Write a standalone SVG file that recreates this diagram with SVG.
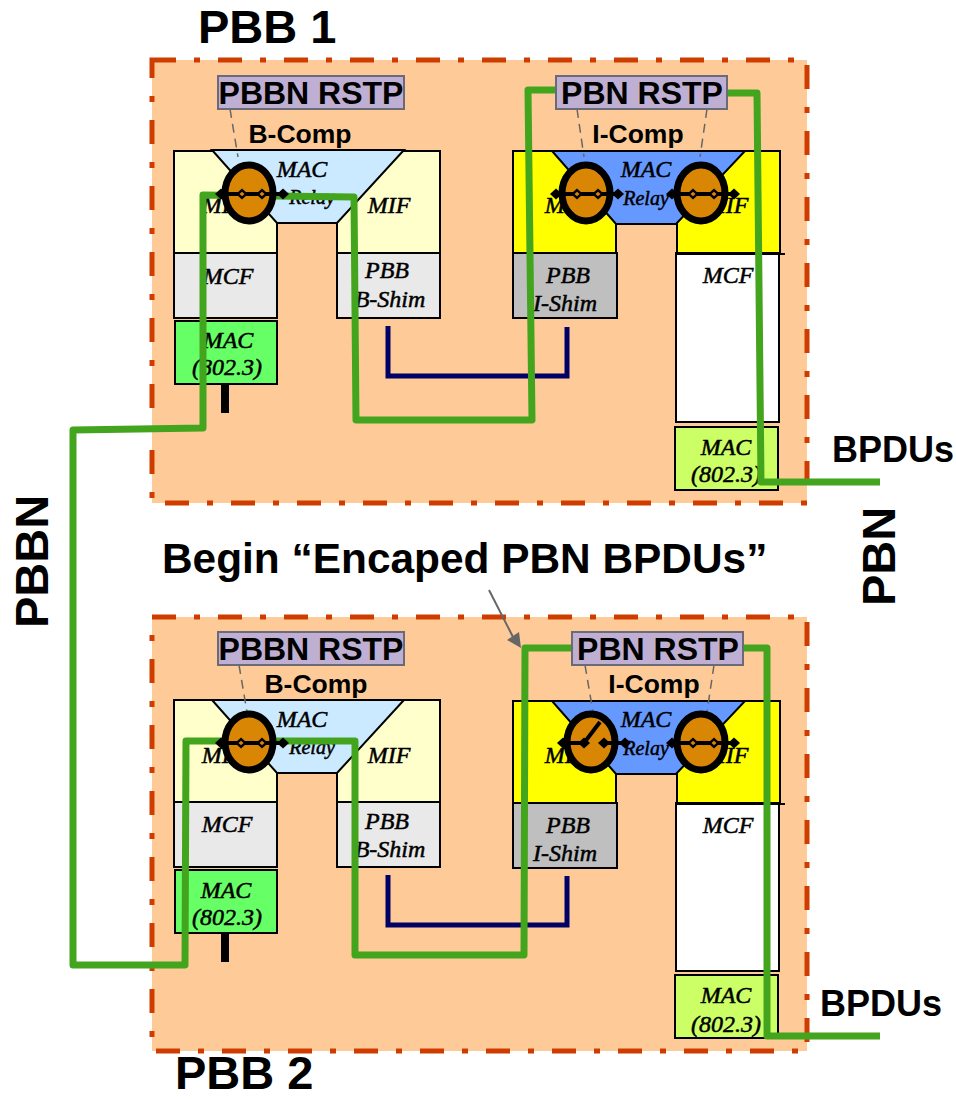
<svg xmlns="http://www.w3.org/2000/svg" width="956" height="1099" viewBox="0 0 956 1099">
<style>
text{font-family:"Liberation Sans",Arial,sans-serif;font-weight:700;fill:#000}
.big{font-size:47px}
.mid{font-size:36px}
.head{font-size:42.4px}
.rstp{font-size:32px;text-anchor:middle}
.comp{font-size:26.5px;text-anchor:middle}
.s{font-family:"Liberation Serif","Times New Roman",serif;font-style:italic;font-weight:400;font-size:24px;text-anchor:middle;stroke:#000;stroke-width:.5}
.r{font-size:20px}
.frame{fill:#fecb98;stroke:#cf3c00;stroke-width:5;stroke-dasharray:24 18 6 18}
.b{stroke:#000;stroke-width:2}
.ly{fill:#ffffcc}.yy{fill:#ffff00}.lg{fill:#e9e9e9}.g{fill:#bfbfbf}.w{fill:#fff}.gr{fill:#66ff66}.lm{fill:#ccff66}
.lb{fill:#cbeaff}.bl{fill:#6699ff}
.box{fill:#bfb0d3;stroke:#6b6b78;stroke-width:2}
.dash{fill:none;stroke:#666;stroke-width:1.5;stroke-dasharray:9 6}
.green{fill:none;stroke:#43a51d;stroke-width:7;stroke-linejoin:round}
.navy{fill:none;stroke:#000066;stroke-width:5}
.ring{fill:#d98605;stroke:#000;stroke-width:7}
.axle{stroke:#000;stroke-width:4;fill:none}
.dia{fill:#000}
</style>
<defs>
<g id="dm"><path class="dia" d="M-6 0L0-5.500L6 0L0 5.500Z"/></g>
<g id="dmi"><path class="dia" d="M-6 0L0-5.500L6 0L0 5.500Z"/><path d="M-2.500 0L0-2.200L2.500 0L0 2.200Z" fill="#d98605"/></g>
</defs>
<rect width="956" height="1099" fill="#fff"/>

<g id="pbb1-frame"><rect class="frame" x="152" y="60" width="655" height="443"/></g>
<g id="pbb2-frame"><rect class="frame" x="152" y="617" width="655" height="434"/></g>

<g id="pbb1-bcomp">
<rect class="ly b" x="174" y="151" width="103" height="102"/>
<rect class="ly b" x="337" y="151" width="103" height="102"/>
<path class="lb b" d="M212 150H404L337 223H277Z"/>
<rect class="lg b" x="174" y="253" width="103" height="65"/>
<rect class="lg b" x="337" y="253" width="103" height="65"/>
<rect class="gr b" x="175" y="321" width="102" height="63"/>
<rect x="221" y="384" width="8" height="29" fill="#000"/>
<text class="s" x="302" y="177">MAC</text><text class="s r" x="312" y="204">Relay</text>
<text class="s" x="223" y="213">MIF</text><text class="s" x="389" y="213">MIF</text>
<text class="s" x="228" y="284">MCF</text><text class="s" x="387" y="278">PBB</text><text class="s" x="390" y="307">B-Shim</text>
<text class="s" x="228" y="348">MAC</text><text class="s" x="227" y="375">(802.3)</text>
</g>
<g id="pbb1-icomp">
<rect class="yy b" x="513" y="151" width="103" height="102"/>
<rect class="yy b" x="677" y="151" width="103" height="102"/>
<path class="bl b" d="M552 151H745L676 224H616Z"/>
<rect class="g b" x="513" y="253" width="104" height="65"/>
<rect class="w b" x="676" y="253" width="103" height="169"/>
<path class="b" d="M676 254H785"/>
<rect class="lm b" x="675" y="427" width="103" height="63"/>
<text class="s" x="646" y="177">MAC</text><text class="s r" x="646" y="205">Relay</text>
<text class="s" x="566" y="213">MIF</text><text class="s" x="727" y="213">MIF</text>
<text class="s" x="728" y="283">MCF</text><text class="s" x="568" y="283">PBB</text><text class="s" x="565" y="311">I-Shim</text>
<text class="s" x="726" y="455">MAC</text><text class="s" x="726" y="482">(802.3)</text>
</g>
<g id="pbb2-bcomp">
<rect class="ly b" x="174" y="700" width="103" height="102"/>
<rect class="ly b" x="337" y="700" width="103" height="102"/>
<path class="lb b" d="M212 700H404L337 773H277Z"/>
<rect class="lg b" x="174" y="802" width="103" height="65"/>
<rect class="lg b" x="337" y="802" width="103" height="65"/>
<rect class="gr b" x="175" y="870" width="102" height="63"/>
<rect x="221" y="933" width="8" height="29" fill="#000"/>
<text class="s" x="302" y="727">MAC</text><text class="s r" x="312" y="754">Relay</text>
<text class="s" x="223" y="763">MIF</text><text class="s" x="389" y="763">MIF</text>
<text class="s" x="227" y="832">MCF</text><text class="s" x="387" y="829">PBB</text><text class="s" x="390" y="857">B-Shim</text>
<text class="s" x="226" y="898">MAC</text><text class="s" x="227" y="925">(802.3)</text>
</g>
<g id="pbb2-icomp">
<rect class="yy b" x="513" y="701" width="103" height="102"/>
<rect class="yy b" x="677" y="701" width="103" height="102"/>
<path class="bl b" d="M552 701H745L676 774H616Z"/>
<rect class="g b" x="513" y="803" width="104" height="65"/>
<rect class="w b" x="676" y="803" width="103" height="168"/>
<path class="b" d="M676 804H785"/>
<rect class="lm b" x="675" y="975" width="103" height="63"/>
<text class="s" x="646" y="727">MAC</text><text class="s r" x="646" y="755">Relay</text>
<text class="s" x="566" y="763">MIF</text><text class="s" x="727" y="763">MIF</text>
<text class="s" x="728" y="833">MCF</text><text class="s" x="568" y="833">PBB</text><text class="s" x="565" y="861">I-Shim</text>
<text class="s" x="726" y="1003">MAC</text><text class="s" x="726" y="1032">(802.3)</text>
</g>

<g id="connectors">
<path class="navy" d="M388 326V376H567V327"/>
<path class="navy" d="M388 875V925H567V876"/>
<path class="green" d="M556 90H528L532 420H356L354 197L203 195V428L73 430V965H185L186 741H355V955H524L525 648H572"/>
<path class="green" d="M727 93H757L761 482H880"/>
<path class="green" d="M743 648H767V1036H880"/>
<path d="M489 590L513 637" fill="none" stroke="#666" stroke-width="2"/>
<path d="M521 648L507 640L519 632Z" fill="#666"/>
<path class="dash" d="M230 109L238 157"/>
<path class="dash" d="M577 109L584 157"/>
<path class="dash" d="M707 109L700 157"/>
<path class="dash" d="M239 665L247 712"/>
<path class="dash" d="M585 665L593 712"/>
<path class="dash" d="M714 665L707 712"/>
</g>

<g id="ring-b1"><ellipse class="ring" cx="249" cy="193" rx="24" ry="28"/><path class="axle" d="M221 194H283"/><use href="#dm" x="221" y="194"/><use href="#dmi" x="242" y="194"/><use href="#dmi" x="262" y="194"/><use href="#dm" x="283" y="194"/></g>
<g id="ring-i1a"><ellipse class="ring" cx="586" cy="193" rx="24" ry="28"/><path class="axle" d="M556 194H618"/><use href="#dm" x="556" y="194"/><use href="#dmi" x="577" y="194"/><use href="#dmi" x="598" y="194"/><use href="#dm" x="618" y="194"/></g>
<g id="ring-i1b"><ellipse class="ring" cx="701" cy="193" rx="24" ry="28"/><path class="axle" d="M672 194H734"/><use href="#dm" x="672" y="194"/><use href="#dmi" x="693" y="194"/><use href="#dmi" x="714" y="194"/><use href="#dm" x="734" y="194"/></g>
<g id="ring-b2"><ellipse class="ring" cx="249" cy="742" rx="24" ry="28"/><path class="axle" d="M221 743H283"/><use href="#dm" x="221" y="743"/><use href="#dmi" x="241" y="743"/><use href="#dmi" x="262" y="743"/><use href="#dm" x="283" y="743"/></g>
<g id="ring-i2a"><ellipse class="ring" cx="591" cy="742" rx="24" ry="28"/><path class="axle" d="M563 743H584L600 722M604 743H625"/><use href="#dm" x="563" y="743"/><use href="#dm" x="584" y="743"/><use href="#dm" x="604" y="743"/><use href="#dm" x="625" y="743"/></g>
<g id="ring-i2b"><ellipse class="ring" cx="701" cy="742" rx="24" ry="28"/><path class="axle" d="M672 743H734"/><use href="#dm" x="672" y="743"/><use href="#dmi" x="693" y="743"/><use href="#dmi" x="714" y="743"/><use href="#dm" x="734" y="743"/></g>

<g id="rstp-b1"><rect class="box" x="218" y="76" width="186" height="33"/><text class="rstp" x="311" y="104">PBBN RSTP</text></g>
<g id="rstp-i1"><rect class="box" x="556" y="76" width="171" height="33"/><text class="rstp" x="642" y="104">PBN RSTP</text></g>
<g id="rstp-b2"><rect class="box" x="218" y="632" width="186" height="33"/><text class="rstp" x="311" y="660">PBBN RSTP</text></g>
<g id="rstp-i2"><rect class="box" x="572" y="632" width="171" height="33"/><text class="rstp" x="658" y="660">PBN RSTP</text></g>

<g id="labels">
<text class="comp" x="300" y="143">B-Comp</text>
<text class="comp" x="638" y="143">I-Comp</text>
<text class="comp" x="316" y="693">B-Comp</text>
<text class="comp" x="654" y="693">I-Comp</text>
<text class="big" x="198" y="43">PBB 1</text>
<text class="big" x="175" y="1089">PBB 2</text>
<text class="big" transform="translate(48 628) rotate(-90)">PBBN</text>
<text class="big" transform="translate(895 606) rotate(-90)">PBN</text>
<text class="head" x="162" y="573">Begin “Encaped PBN BPDUs”</text>
<text class="mid" x="832" y="462">BPDUs</text>
<text class="mid" x="820" y="1016">BPDUs</text>
</g>
</svg>
